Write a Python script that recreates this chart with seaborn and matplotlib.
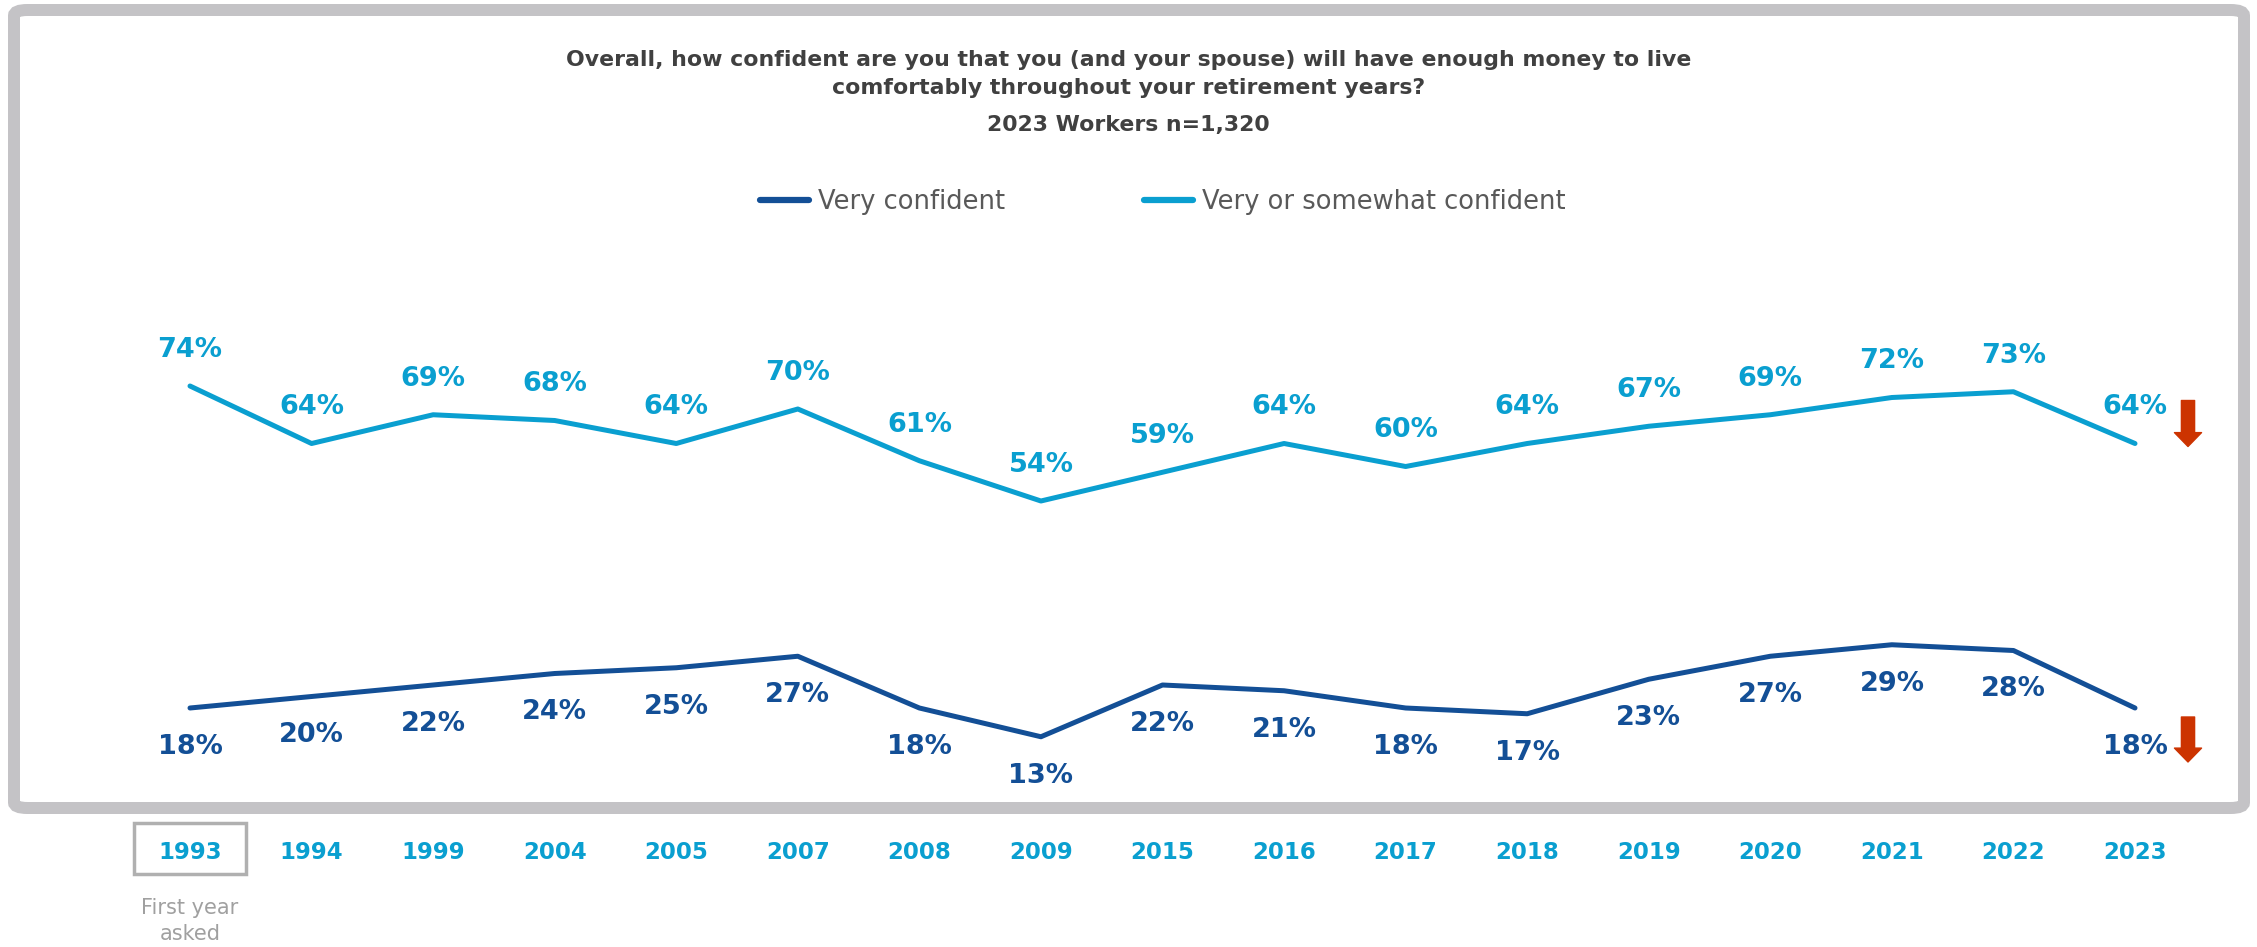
import matplotlib.pyplot as plt
import seaborn as sns
from matplotlib.patches import FancyBboxPatch, Rectangle
from matplotlib.lines import Line2D
import matplotlib.transforms as mtransforms

years = ["1993", "1994", "1999", "2004", "2005", "2007", "2008", "2009", "2015",
         "2016", "2017", "2018", "2019", "2020", "2021", "2022", "2023"]
very_confident = [18, 20, 22, 24, 25, 27, 18, 13, 22, 21, 18, 17, 23, 27, 29, 28, 18]
very_or_somewhat = [74, 64, 69, 68, 64, 70, 61, 54, 59, 64, 60, 64, 67, 69, 72, 73, 64]

DARK = "#134f96"
LIGHT = "#0a9fd0"
RED = "#cc3300"
GRAY_TXT = "#404040"

sns.set_theme(style="white")
plt.rcParams['font.family'] = ['DejaVu Sans']

W, H = 2257, 947
fig = plt.figure(figsize=(W / 100, H / 100), dpi=100)
ax = fig.add_axes([190 / W, (H - 811.5) / H, (2135 - 190) / W, 575 / H])

x = list(range(len(years)))
sns.lineplot(x=x, y=very_or_somewhat, ax=ax, color=LIGHT, lw=3.6, clip_on=False)
sns.lineplot(x=x, y=very_confident, ax=ax, color=DARK, lw=3.6, clip_on=False)

ax.set_xlim(0, len(years) - 1)
ax.set_ylim(0, 100)
ax.set_yticks([])
ax.set_xticks(x, years)
ax.tick_params(axis='x', length=0, pad=21, labelsize=16.5, labelcolor=LIGHT)
for lab in ax.get_xticklabels():
    lab.set_fontweight('bold')
sns.despine(ax=ax, left=True, bottom=True)
ax.patch.set_alpha(0)

# data labels
for i, v in enumerate(very_or_somewhat):
    ax.annotate(f"{v}%", (i, v), xytext=(0, 26), textcoords='offset points',
                ha='center', va='center', fontsize=19.5, fontweight='bold', color=LIGHT)
for i, v in enumerate(very_confident):
    ax.annotate(f"{v}%", (i, v), xytext=(0, -28), textcoords='offset points',
                ha='center', va='center', fontsize=19.5, fontweight='bold', color=DARK)

# red down arrows next to the last points
last = len(years) - 1
for series, tail_dy, head_dy in [(very_or_somewhat, 43, -3), (very_confident, -9, -54)]:
    tail = mtransforms.offset_copy(ax.transData, fig=fig, x=53, y=tail_dy, units='dots')
    head = mtransforms.offset_copy(ax.transData, fig=fig, x=53, y=head_dy, units='dots')
    ax.annotate("", xy=(last, series[last]), xycoords=head,
                xytext=(last, series[last]), textcoords=tail,
                arrowprops=dict(arrowstyle="simple,head_length=1.0,head_width=1.95,tail_width=0.95",
                                mutation_scale=10, fc=RED, ec=RED, shrinkA=0, shrinkB=0))

# box around the first year + note
blend = mtransforms.blended_transform_factory(ax.transData, ax.transAxes)
ax.add_patch(Rectangle((x[0] - 0.46, -0.1087), 0.92, 0.0887, transform=blend,
                       fill=False, ec="#b0b0b0", lw=2.5, clip_on=False))
ax.text(x[0], -0.19, "First year\nasked", transform=blend, ha='center', va='center',
        fontsize=15, color="#a0a0a0", linespacing=1.35)

# titles
fig.text(0.5, 1 - 74 / H,
         "Overall, how confident are you that you (and your spouse) will have enough money to live\n"
         "comfortably throughout your retirement years?",
         ha='center', va='center', fontsize=15.8, fontweight='bold', color=GRAY_TXT, linespacing=1.55)
fig.text(0.5, 1 - 125 / H, "2023 Workers n=1,320", ha='center', va='center',
         fontsize=15.8, fontweight='bold', color=GRAY_TXT)

# legend
handles = [Line2D([], [], color=DARK, lw=4.5), Line2D([], [], color=LIGHT, lw=4.5)]
fig.legend(handles, ["Very confident", "Very or somewhat confident"], loc='center',
           bbox_to_anchor=(1163 / W, 1 - 202 / H), ncol=2, frameon=False,
           fontsize=18.5, labelcolor="#595959", handlelength=1.9, handletextpad=0.35,
           columnspacing=5.4)

# outer frame
fig.patches.append(FancyBboxPatch((14 / W, 1 - 808 / H), (2244 - 14) / W, (808 - 10) / H,
                                  boxstyle="round,pad=0,rounding_size=0.006",
                                  transform=fig.transFigure, fc='none', ec="#c4c3c6",
                                  lw=12 * 0.72, zorder=-1))

fig.savefig("out.png", dpi=100, facecolor="white")
